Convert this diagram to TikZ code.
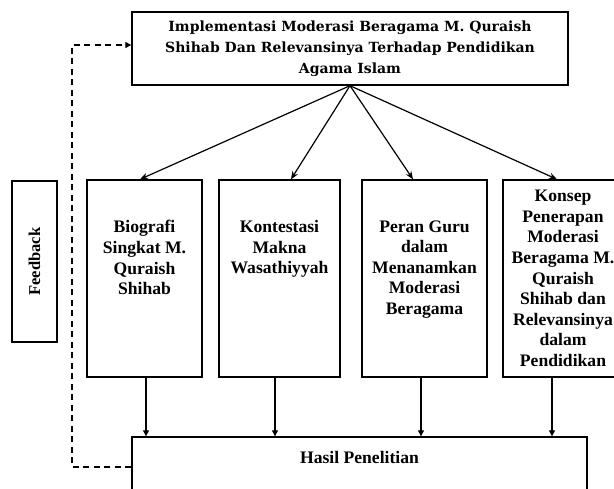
\documentclass[tikz,border=0pt]{standalone}
\usepackage{fontspec}
\setmainfont{Liberation Serif}
\newfontfamily\slabfont{DejaVu Serif}
\usetikzlibrary{arrows.meta}
\begin{document}
\begin{tikzpicture}[x=1pt,y=-1pt,
  box/.style={draw,line width=1.4pt,inner sep=0pt,rectangle},
  lbl/.style={font=\bfseries\fontsize{17.6}{20.6}\selectfont,align=center,inner sep=0pt},
  headfont/.style={font=\slabfont\bfseries\fontsize{14}{21}\selectfont,align=center},
  fanarrow/.style={line width=1.2pt,-{Stealth[length=8pt,width=6.5pt]}},
  downarrow/.style={line width=1.2pt,-{Triangle[length=6pt,width=6pt]}},
  fbline/.style={line width=1.3pt,dash pattern=on 6pt off 4.5pt,-{Triangle[length=6pt,width=6pt]}}
]
\useasboundingbox (0,0) rectangle (614,488);
\clip (0,0) rectangle (614,488);

% title box
\node[box,headfont,minimum width=436pt,minimum height=73pt] (top) at (350,48.5)
  {Implementasi Moderasi Beragama M. Quraish\\Shihab Dan Relevansinya Terhadap Pendidikan\\Agama Islam};

% feedback box (text runs upward)
\node[box,lbl,font=\bfseries\fontsize{16.5}{20}\selectfont,rotate=90,minimum width=161pt,minimum height=45pt] (fb) at (34.5,261.5) {Feedback};

% the four topic boxes
\node[box,minimum width=115pt,minimum height=197pt] (b1) at (144.5,278.5) {};
\node[box,minimum width=121pt,minimum height=197pt] (b2) at (279.5,278.5) {};
\node[box,minimum width=125pt,minimum height=197pt] (b3) at (424.5,278.5) {};
\node[box,lbl,minimum width=120pt,minimum height=197pt] (b4) at (563,278.5)
  {Konsep\\Penerapan\\Moderasi\\Beragama M.\\Quraish\\Shihab dan\\Relevansinya\\dalam\\Pendidikan};

\node[lbl,anchor=north] (t1) at ([yshift=-41pt]b1.north) {Biografi\\Singkat M.\\Quraish\\Shihab};
\node[lbl,anchor=north] (t2) at ([yshift=-41pt]b2.north) {Kontestasi\\Makna\\Wasathiyyah};
\node[lbl,anchor=north] (t3) at ([yshift=-41pt]b3.north) {Peran Guru\\dalam\\Menanamkan\\Moderasi\\Beragama};

% results box
\node[box,minimum width=455pt,minimum height=60pt] (res) at (359.5,467) {};
\node[lbl] (rt) at ([yshift=-21pt]res.north) {Hasil Penelitian};

% arrows from the title to each topic
\draw[fanarrow] (top.south) -- ([xshift=-4.5pt]b1.north);
\draw[fanarrow] (top.south) -- ([xshift=11.5pt]b2.north);
\draw[fanarrow] (top.south) -- ([xshift=-11.5pt]b3.north);
\draw[fanarrow] (top.south) -- ([xshift=-6pt]b4.north);

% arrows from each topic down to the results
\path ([xshift=1.5pt]b1.south) coordinate (s1)
      ([xshift=-4.5pt]b2.south) coordinate (s2)
      ([xshift=-3.5pt]b3.south) coordinate (s3)
      ([xshift=-11pt]b4.south) coordinate (s4);
\foreach \i in {1,...,4} \draw[downarrow] (s\i) -- (s\i |- res.north);

% dashed feedback loop
\coordinate (fbx) at (72,0);
\coordinate (fbin) at ([yshift=3.5pt]top.west);
\draw[fbline] (res.west) -- (res.west -| fbx) -- (fbin -| fbx) -- (fbin);
\end{tikzpicture}
\end{document}
